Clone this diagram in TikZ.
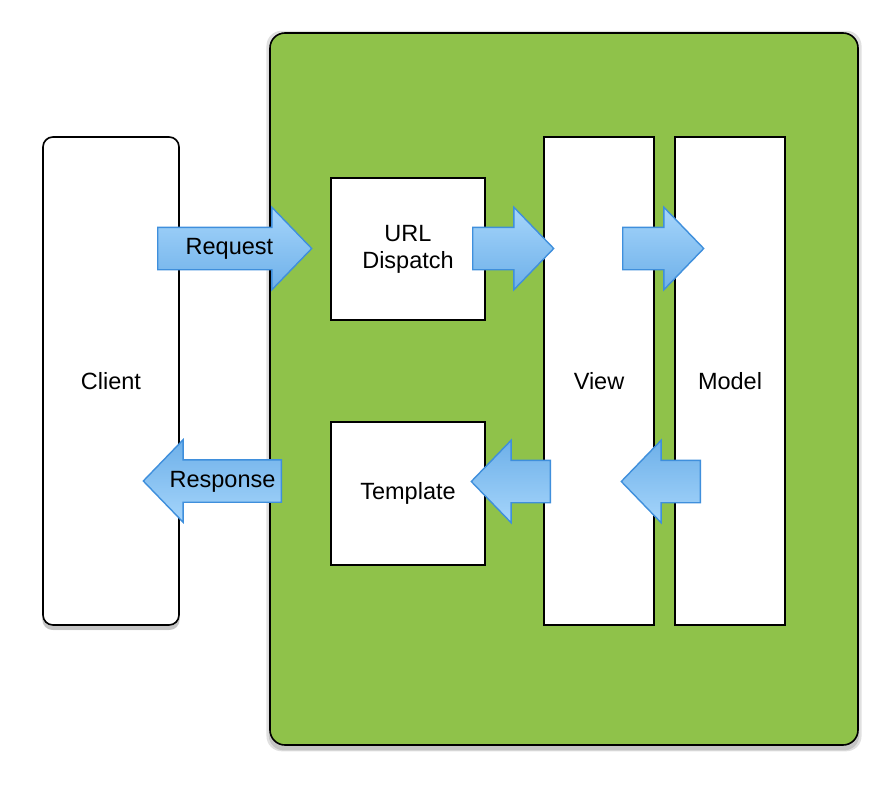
\documentclass[tikz,border=0pt]{standalone}
\usepackage{fontspec}
\setmainfont{Liberation Sans}
\usepackage{xcolor}
\usetikzlibrary{positioning,shapes.arrows,shadows}

\definecolor{appgreen}{RGB}{143,194,74}
\definecolor{arrowline}{RGB}{63,143,220}
\definecolor{arrowlight}{RGB}{165,213,251}
\definecolor{arrowdark}{RGB}{110,176,233}

\tikzset{
  panel/.style={draw=black, line width=1.6pt, fill=white, inner sep=0pt},
  softshadow/.style={
    drop shadow={shadow xshift=0pt, shadow yshift=-2pt,
                 shadow scale=1.012, opacity=0.12, fill=black},
    drop shadow={shadow xshift=0pt, shadow yshift=-4pt,
                 shadow scale=1.004, opacity=0.12, fill=black}},
  blockarrow/.style={single arrow, draw=arrowline, line width=1.4pt,
                     single arrow head extend=20pt, single arrow tip angle=92,
                     text height=16pt, text depth=4pt, inner ysep=10.5pt,
                     inner xsep=2pt},
  goright/.style={blockarrow, top color=arrowlight, bottom color=arrowdark},
  goleft/.style={blockarrow, shape border rotate=180,
                 top color=arrowdark, bottom color=arrowlight},
}

\begin{document}
\begin{tikzpicture}[x=1pt, y=-1pt, font=\fontsize{23.5}{27}\selectfont]
  \useasboundingbox (0,0) rectangle (896,792);

  % Application (green area)
  \node[panel, fill=appgreen, rounded corners=15pt, softshadow,
        minimum width=588pt, minimum height=712pt] (app) at (564,389) {};

  % Client
  \node[panel, rounded corners=10pt, softshadow,
        minimum width=136pt, minimum height=488pt] (client) at (111,381) {Client};

  % Inner blocks
  \node[panel, align=center, minimum width=154pt, minimum height=142pt]
    (dispatch) at (408,249) {URL\\Dispatch};
  \node[panel, minimum width=154pt, minimum height=143pt]
    (template) at (408,493.5) {Template};
  \node[panel, minimum width=110pt, minimum height=488pt]
    (view) at (599,381) {View};
  \node[panel, minimum width=110pt, minimum height=488pt]
    (model) at (730,381) {Model};

  % Request path
  \node[goright, minimum height=154pt, anchor=tail] (request)
    at (157,248.5) {\hspace*{10pt}Request};
  \node[goright, minimum height=81pt, anchor=tail] (toview)
    at (472,248.5) {};
  \node[goright, minimum height=81pt, anchor=tail] (tomodel)
    at (622,248.5) {};

  % Response path
  \node[goleft, minimum height=79pt, anchor=tail] (fromview)
    at (551,481.5) {};
  \node[goleft, minimum height=79pt, anchor=tail] (frommodel)
    at (701,481.5) {};
  \node[goleft, minimum height=138pt, anchor=tail] (response)
    at (282,481) {Response};
\end{tikzpicture}
\end{document}
